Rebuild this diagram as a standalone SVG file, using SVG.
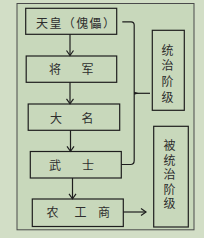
<svg xmlns="http://www.w3.org/2000/svg" width="204" height="238" viewBox="0 0 204 238">
<defs>
<style>
.box{fill:none;stroke:#1e1e1e;stroke-width:1.2}
.t{font-family:"Noto Sans CJK SC","Noto Sans CJK JP",sans-serif;font-size:12px;fill:#2e2e2e}
.v{writing-mode:vertical-rl;glyph-orientation-vertical:0}
.ln{fill:none;stroke:#1e1e1e;stroke-width:1.2}
</style>
<marker id="ah" markerUnits="userSpaceOnUse" markerWidth="10" markerHeight="10" refX="6" refY="4" orient="auto">
<path d="M1,0.5 L6,4 L1,7.5" fill="none" stroke="#1e1e1e" stroke-width="1.2"/>
</marker>
</defs>
<rect x="0" y="0" width="204" height="238" fill="#d2dec6"/>
<rect x="17" y="3.5" width="177" height="226.3" fill="#c8d8bb" stroke="#4a4a4a" stroke-width="1"/>

<g id="tianhuang">
<rect class="box" x="25.7" y="8.3" width="91" height="26"/>
<text class="t" x="36" y="27.5" textLength="79" lengthAdjust="spacing">天皇（傀儡）</text>
</g>
<g id="jiangjun">
<rect class="box" x="26.2" y="56" width="90.5" height="26.3"/>
<text class="t" y="74"><tspan x="49">将</tspan><tspan x="81.5">军</tspan></text>
</g>
<g id="daming">
<rect class="box" x="28.2" y="104" width="91.5" height="26.3"/>
<text class="t" y="122.5"><tspan x="50">大</tspan><tspan x="81.5">名</tspan></text>
</g>
<g id="wushi">
<rect class="box" x="30.3" y="151.5" width="91" height="26.5"/>
<text class="t" y="169.5"><tspan x="49">武</tspan><tspan x="82">士</tspan></text>
</g>
<g id="nonggongshang">
<rect class="box" x="32.3" y="199" width="91" height="27.5"/>
<text class="t" y="216.5"><tspan x="46.5">农</tspan><tspan x="74.5">工</tspan><tspan x="98">商</tspan></text>
</g>
<g id="tongzhi">
<rect class="box" x="152.3" y="30.3" width="32" height="80"/>
<text class="t v" x="167.5" y="44" letter-spacing="3.7">统治阶级</text>
</g>
<g id="beitongzhi">
<rect class="box" x="153.7" y="126.3" width="34.6" height="100.7"/>
<text class="t v" x="169.5" y="139.8" letter-spacing="2.4">被统治阶级</text>
</g>

<g id="connectors">
<line class="ln" x1="70" y1="34.3" x2="70" y2="55.5" marker-end="url(#ah)"/>
<line class="ln" x1="70" y1="82.3" x2="70" y2="103.8" marker-end="url(#ah)"/>
<line class="ln" x1="70.5" y1="130.3" x2="70.5" y2="151.3" marker-end="url(#ah)"/>
<line class="ln" x1="72.5" y1="178" x2="72.5" y2="198.8" marker-end="url(#ah)"/>
<line class="ln" x1="123.3" y1="212" x2="146" y2="212" marker-end="url(#ah)"/>
<path class="ln" d="M122.3,21.8 H131 Q134.2,21.8 134.2,25 V160.5 Q134.2,164.5 130.5,164.5 H121.3"/>
<path class="ln" d="M134.2,93.3 H150"/>
<path d="M134.2,91.8 L139,93.3 L134.2,94.8 Z" fill="#1e1e1e"/>
</g>
</svg>
